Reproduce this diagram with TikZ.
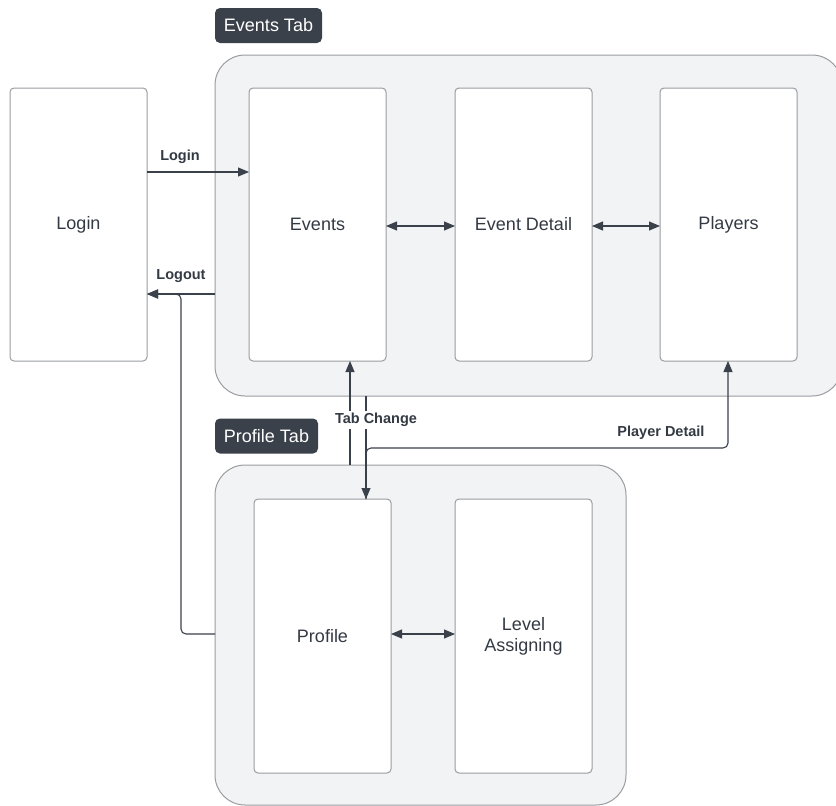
\documentclass[tikz,border=0pt]{standalone}
\usepackage{fontspec}
\setmainfont{Liberation Sans}
\usetikzlibrary{arrows.meta}
\definecolor{ink}{HTML}{3A414A}
\definecolor{txt}{HTML}{333A44}
\definecolor{bd}{HTML}{9A9CA0}
\definecolor{area}{HTML}{F2F3F5}

\begin{document}
\begin{tikzpicture}[
    x=1pt, y=-1pt,
    every node/.style={text=txt},
    screen/.style={draw=bd, fill=white, line width=1pt, rounded corners=4pt,
      minimum width=137pt, inner sep=0pt, outer sep=0pt, font=\fontsize{18}{21}\selectfont,
      align=center},
    tabarea/.style={draw=bd, fill=area, line width=1pt, rounded corners=30pt,
      inner sep=0pt, outer sep=0pt},
    tablabel/.style={fill=ink, text=white, rounded corners=5pt, inner sep=0pt, outer sep=0pt,
      minimum height=35pt, font=\fontsize{18}{21}\selectfont},
    lbl/.style={font=\fontsize{14.5}{17}\selectfont\bfseries, inner sep=2pt},
    link/.style={draw=ink, line width=1.1pt, -{Triangle[length=11pt,width=9pt]}},
    both/.style={draw=ink, line width=1.1pt, {Triangle[length=11pt,width=9pt]}-{Triangle[length=11pt,width=9pt]}}]

      \useasboundingbox (0,0) rectangle (836,806);
      \clip (0,0) rectangle (836,806);

      % tab areas
      \node[tabarea, minimum width=627pt, minimum height=341pt] (eventsarea) at (528.5,225.5) {};
      \node[tabarea, minimum width=411pt, minimum height=340pt] (profilearea) at (420.5,635) {};

      \node[tablabel, minimum width=107pt] (eventstab) at (268.5,25.5) {Events Tab};
      \node[tablabel, minimum width=103pt] (profiletab) at (266.5,436) {Profile Tab};

      % screens
      \node[screen, minimum height=273pt] (login) at (78.5,224.5) {Login};
      \node[screen, minimum height=273pt] (events) at (317.5,224.5) {Events};
      \node[screen, minimum height=273pt] (eventdetail) at (523.5,224.5) {Event Detail};
      \node[screen, minimum height=273pt] (players) at (728.5,224.5) {Players};

      \node[screen, minimum height=274pt] (profile) at (322.5,636) {Profile};
      \node[screen, minimum height=274pt] (level) at (523.5,636) {Level\\Assigning};

      % login / logout
      \draw[link] (login.east |- 0,172) -- (events.west |- 0,172);
      \node[lbl] (loginlbl) at (180,157) {Login};

      \draw[link] (eventsarea.west |- 0,294) -- (login.east |- 0,294);
      \draw[link, rounded corners=5pt] (profilearea.west |- 0,634) -- (181,634)
        -- (181,294) -- (login.east |- 0,294);
      \node[lbl] (logoutlbl) at (181,276) {Logout};

      % inside the tabs
      \draw[both] (events.east |- 0,226) -- (eventdetail.west |- 0,226);
      \draw[both] (eventdetail.east |- 0,226) -- (players.west |- 0,226);
      \draw[both] (profile.east |- 0,634) -- (level.west |- 0,634);

      % tab change
      \draw[link] (profilearea.north -| 350,0) -- (events.south -| 350,0);
      \draw[link] (eventsarea.south -| 366,0) -- (profile.north -| 366,0);
      \node[lbl, fill=white] (tablbl) at (376,420) {Tab Change};

      % player detail
      \draw[link, rounded corners=5pt] (profile.north -| 366,0) -- (366,448)
        -- (728,448) -- (players.south -| 728,0);
      \node[lbl] (playerlbl) at (661,433) {Player Detail};

    \end{tikzpicture}
\end{document}
